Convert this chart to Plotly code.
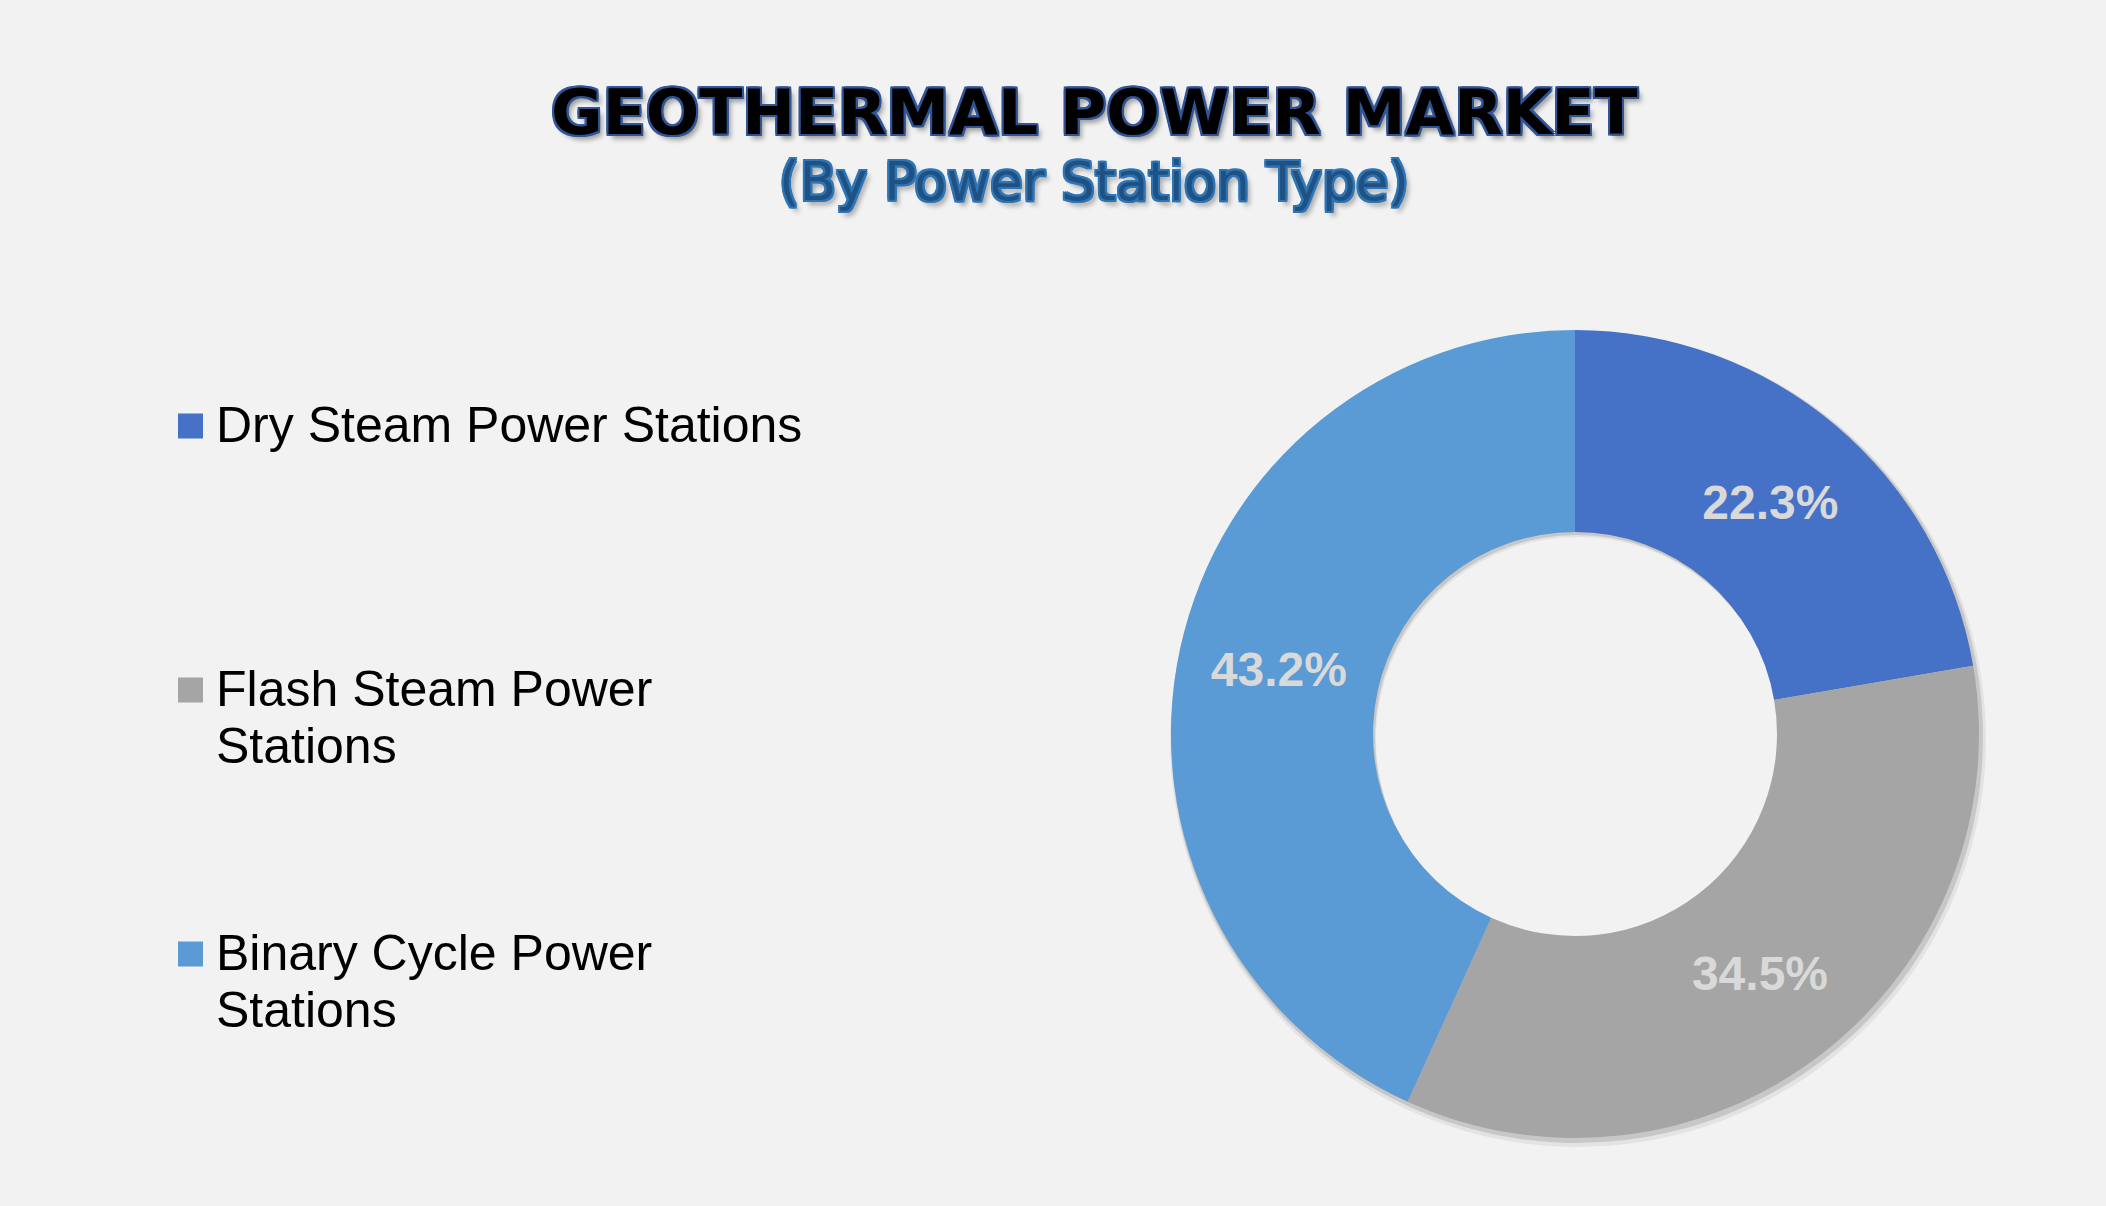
import plotly.graph_objects as go

# ---- data ----
categories = ["Dry Steam Power Stations", "Flash Steam Power Stations", "Binary Cycle Power Stations"]
legend_labels = ["Dry Steam Power Stations", "Flash Steam Power<br>Stations", "Binary Cycle Power<br>Stations"]
shares = [22.3, 34.5, 43.2]
colors = ["#4571C6", "#A5A5A5", "#5A9AD5"]
title_text = "GEOTHERMAL POWER MARKET"
subtitle_text = "(By Power Station Type)"

W, H = 2106, 1206
FONT = "Liberation Sans, Arial, sans-serif"
TITLE_FONT = "DejaVu Sans, Liberation Sans, Arial, sans-serif"

def px_x(x):
    return x / W

def px_y(y):
    return 1 - y / H

# donut geometry (pixels)
cx, cy, r = 1575, 734, 404

def dom(dx, dy, rr):
    return dict(x=[px_x(cx + dx - rr), px_x(cx + dx + rr)],
                y=[px_y(cy + dy + rr), px_y(cy + dy - rr)])

fig = go.Figure()
# soft drop shadow beneath the donut
for dx, dy, extra, alpha in [(3, 5, 4, 0.06), (2, 3, 2, 0.12)]:
    fig.add_trace(go.Pie(
        values=shares, labels=categories, hole=0.5 * r / (r + extra), sort=False,
        direction="clockwise", rotation=0,
        marker=dict(colors=[f"rgba(0,0,0,{alpha})"] * len(shares), line=dict(width=0)),
        textinfo="none", hoverinfo="skip", showlegend=False,
        domain=dom(dx, dy, r + extra),
    ))

fig.add_trace(go.Pie(
    labels=categories,
    values=shares,
    hole=0.5,
    sort=False,
    direction="clockwise",
    rotation=0,
    marker=dict(colors=colors, line=dict(width=0)),
    texttemplate="%{value:.1f}%",
    textposition="inside",
    insidetextorientation="horizontal",
    textfont=dict(family=FONT, size=48, color="#D9D9D9", weight="bold"),
    domain=dom(0, 0, r),
    showlegend=False,
    hoverinfo="label+percent",
))

annotations = []
shapes = []

def outline(col, w, extra):
    parts = []
    for dx, dy in [(-w, -w), (w, -w), (-w, w), (w, w), (0, w), (0, -w), (w, 0), (-w, 0)]:
        parts.append(f"{dx}px {dy}px 0 {col}")
    parts.append(extra)
    return ", ".join(parts)

# title & subtitle
annotations.append(dict(
    text="<b>" + title_text + "</b>", x=px_x(1094), y=px_y(112), xref="paper", yref="paper",
    xanchor="center", yanchor="middle", showarrow=False,
    font=dict(family=TITLE_FONT, size=63, color="#000000",
              shadow=outline("#2F5597", 2, "4px 5px 5px rgba(0,0,0,0.35)")),
))
annotations.append(dict(
    text=subtitle_text, x=px_x(1094), y=px_y(182), xref="paper", yref="paper",
    xanchor="center", yanchor="middle", showarrow=False,
    font=dict(family=TITLE_FONT, size=53, color="#1F5183",
              shadow=outline("#2E75B6", 2, "4px 5px 5px rgba(0,0,0,0.35)")),
))

# custom legend
fs = 50
line_gap = 57
for i, (lab, col) in enumerate(zip(legend_labels, colors)):
    y_first = 425 + i * 264
    for k, line in enumerate(lab.split("<br>")):
        annotations.append(dict(
            text=line, x=px_x(214), y=px_y(y_first + k * line_gap), xref="paper", yref="paper",
            xanchor="left", yanchor="middle", align="left", showarrow=False,
            font=dict(family=FONT, size=fs, color="#000000"),
        ))
    shapes.append(dict(
        type="rect", xref="paper", yref="paper",
        x0=px_x(178), x1=px_x(203), y0=px_y(y_first + 13.5), y1=px_y(y_first - 11.5),
        fillcolor=col, line=dict(width=0),
    ))

fig.update_layout(
    width=W, height=H,
    margin=dict(l=0, r=0, t=0, b=0),
    paper_bgcolor="#F2F2F2",
    plot_bgcolor="#F2F2F2",
    annotations=annotations,
    shapes=shapes,
    showlegend=False,
)

fig.write_html("out.html", config={"displayModeBar": False},
               post_script="document.body.style.margin='0';document.body.style.overflow='hidden';")
